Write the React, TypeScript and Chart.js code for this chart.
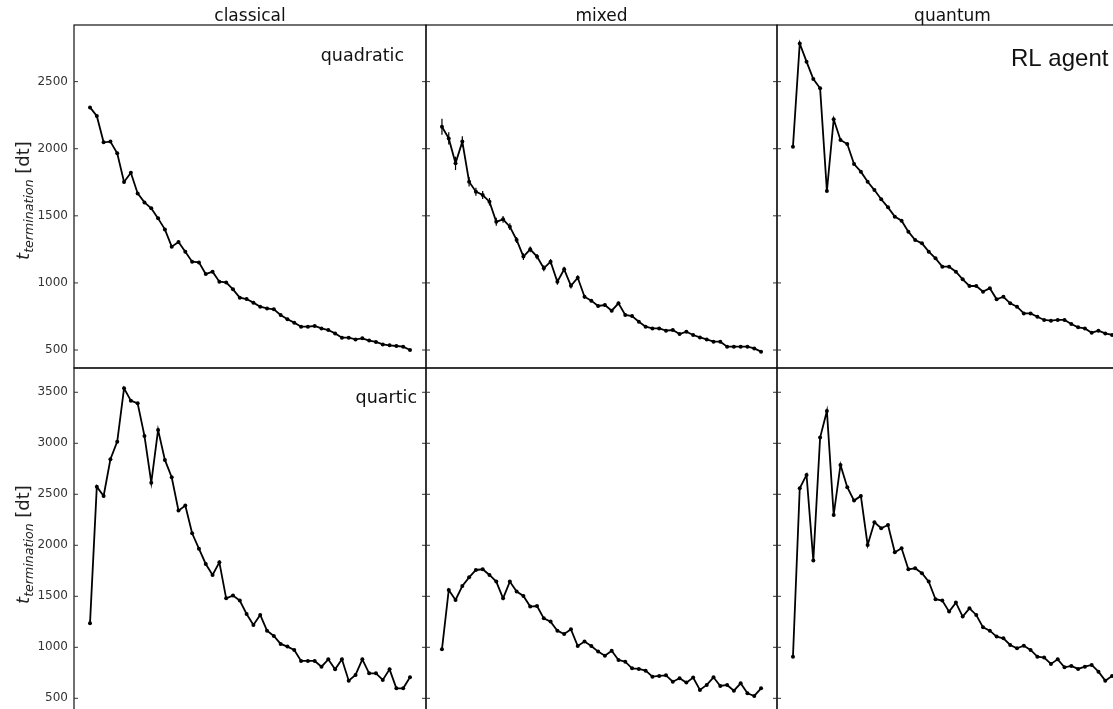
import React, { useEffect, useRef } from 'react';
import { Chart, registerables } from 'chart.js';

Chart.register(...registerables);

// ---------------- data ----------------
const COLUMNS = ['classical', 'mixed', 'quantum'];
const ROW_LABELS = ['quadratic', 'quartic'];
const AGENT_LABEL = 'RL agent';
const TOP_TICKS = [500, 1000, 1500, 2000, 2500];
const BOTTOM_TICKS = [500, 1000, 1500, 2000, 2500, 3000, 3500];

const CLASSICAL_QUADRATIC = [2308, 2244, 2048, 2053, 1966, 1752, 1821, 1667, 1600, 1556, 1481, 1399, 1270, 1305, 1233, 1158, 1153, 1066, 1084, 1009, 1004, 952, 890, 880, 853, 823, 810, 803, 761, 729, 704, 674, 674, 679, 661, 649, 624, 592, 592, 579, 587, 570, 560, 542, 535, 530, 525, 500];
const MIXED_QUADRATIC = [2164, 2077, 1891, 2053, 1754, 1680, 1655, 1605, 1456, 1474, 1419, 1320, 1196, 1250, 1196, 1109, 1158, 1009, 1101, 979, 1039, 897, 868, 828, 835, 793, 848, 761, 753, 711, 674, 661, 661, 644, 649, 619, 637, 612, 594, 579, 562, 562, 525, 525, 525, 525, 512, 488];
const MIXED_QUADRATIC_ERR = [60, 45, 50, 40, 35, 30, 30, 28, 30, 25, 25, 22, 25, 22, 20, 22, 20, 22, 20, 20, 18, 15, 12, 12, 12, 12, 12, 10, 10, 10, 8, 8, 8, 8, 8, 8, 8, 8, 8, 8, 6, 6, 6, 6, 6, 6, 6, 6];
const QUANTUM_QUADRATIC = [2015, 2785, 2649, 2519, 2450, 1685, 2219, 2065, 2035, 1886, 1829, 1754, 1692, 1623, 1563, 1494, 1464, 1382, 1320, 1295, 1233, 1183, 1121, 1121, 1084, 1027, 977, 977, 935, 960, 878, 897, 848, 823, 773, 773, 748, 724, 719, 724, 724, 694, 669, 661, 629, 644, 624, 612];
const CLASSICAL_QUARTIC = [1235, 2575, 2484, 2843, 3016, 3539, 3418, 3392, 3072, 2614, 3131, 2837, 2667, 2340, 2389, 2118, 1967, 1817, 1709, 1833, 1480, 1507, 1458, 1327, 1219, 1317, 1163, 1111, 1033, 1007, 974, 866, 866, 866, 810, 882, 784, 882, 673, 729, 882, 745, 745, 680, 784, 598, 598, 706];
const MIXED_QUARTIC = [980, 1562, 1464, 1601, 1686, 1758, 1765, 1709, 1644, 1480, 1644, 1546, 1503, 1399, 1405, 1284, 1252, 1163, 1131, 1176, 1013, 1056, 1013, 958, 918, 967, 876, 859, 794, 788, 771, 712, 719, 725, 663, 696, 654, 703, 582, 631, 706, 621, 631, 575, 647, 549, 523, 598];
const QUANTUM_QUARTIC = [908, 2559, 2690, 1850, 3056, 3317, 2297, 2788, 2569, 2438, 2484, 2003, 2225, 2167, 2199, 1931, 1971, 1765, 1775, 1726, 1644, 1471, 1458, 1350, 1438, 1301, 1382, 1317, 1196, 1163, 1105, 1088, 1023, 990, 1016, 974, 908, 899, 837, 882, 804, 817, 788, 810, 827, 761, 673, 719];

// ---------------- layout ----------------
const COL_LEFT = [74, 426, 777];
const COL_RIGHT = [426, 777, 1128];
const ROW_TOP = [25, 368];
const ROW_BOTTOM = [368, 713];
const Y_RANGE = [
  [366, 2922],
  [356, 3738],
];
const ROW_TICKS = [TOP_TICKS, BOTTOM_TICKS];
const N = CLASSICAL_QUADRATIC.length;
const X_MIN = -0.05 * (N - 1);
const X_MAX = (N - 1) * 1.05;

type PanelProps = {
  row: number;
  col: number;
  values: number[];
  err?: number[];
};

function Panel({ row, col, values, err }: PanelProps) {
  const ref = useRef<HTMLCanvasElement | null>(null);

  const padL = col === 0 ? 74 : 2;
  const padR = 2;
  const padT = row === 0 ? 25 : 20;
  const padB = 18;
  const areaW = COL_RIGHT[col] - COL_LEFT[col];
  const areaH = ROW_BOTTOM[row] - ROW_TOP[row];
  const canvasLeft = COL_LEFT[col] - padL;
  const canvasTop = ROW_TOP[row] - padT;
  const cw = padL + areaW + padR;
  const ch = padT + areaH + padB;

  useEffect(() => {
    if (!ref.current) return;
    const ticks = ROW_TICKS[row];
    const deco = {
      id: 'deco' + row + col,
      afterDatasetsDraw(chart: any) {
        const ctx = chart.ctx as CanvasRenderingContext2D;
        const a = chart.chartArea;
        const ys = chart.scales.y;
        const xs = chart.scales.x;
        ctx.save();
        // error bars
        if (err) {
          ctx.strokeStyle = '#000';
          ctx.lineWidth = 1.2;
          values.forEach((v, i) => {
            const x = xs.getPixelForValue(i);
            ctx.beginPath();
            ctx.moveTo(x, ys.getPixelForValue(v - err[i]));
            ctx.lineTo(x, ys.getPixelForValue(v + err[i]));
            ctx.stroke();
          });
        }
        // frame
        ctx.strokeStyle = '#111';
        ctx.lineWidth = 1.2;
        ctx.strokeRect(a.left, a.top, a.right - a.left, a.bottom - a.top);
        // inward ticks
        ctx.lineWidth = 1;
        ctx.strokeStyle = '#333';
        ticks.forEach((v) => {
          const y = ys.getPixelForValue(v);
          ctx.beginPath();
          ctx.moveTo(a.left, y);
          ctx.lineTo(a.left + 4, y);
          ctx.moveTo(a.right - 4, y);
          ctx.lineTo(a.right, y);
          ctx.stroke();
        });
        ctx.fillStyle = '#111';
        // column title
        if (row === 0) {
          ctx.font = '17px "DejaVu Sans"';
          ctx.textAlign = 'center';
          ctx.textBaseline = 'alphabetic';
          ctx.fillText(COLUMNS[col], (a.left + a.right) / 2, 21);
        }
        // row labels
        if (col === 0) {
          ctx.font = '17.5px "DejaVu Sans"';
          ctx.textAlign = 'right';
          ctx.textBaseline = 'alphabetic';
          if (row === 0) ctx.fillText(ROW_LABELS[0], 404, 61);
          else ctx.fillText(ROW_LABELS[1], 417, 403 - canvasTop);
          // y axis title
          const cy = (a.top + a.bottom) / 2 + 4;
          ctx.translate(29, cy);
          ctx.rotate(-Math.PI / 2);
          ctx.textAlign = 'left';
          const fMain = 'italic 18px "DejaVu Sans"';
          const fSub = 'italic 12.6px "DejaVu Sans"';
          const fReg = '18px "DejaVu Sans"';
          ctx.font = fMain;
          const w1 = ctx.measureText('t').width;
          ctx.font = fSub;
          const w2 = ctx.measureText('termination').width;
          ctx.font = fReg;
          const w3 = ctx.measureText(' [dt]').width;
          const start = -(w1 + w2 + w3) / 2;
          ctx.fillStyle = '#222';
          ctx.font = fMain;
          ctx.fillText('t', start, 0);
          ctx.font = fSub;
          ctx.fillText('termination', start + w1, 4);
          ctx.font = fReg;
          ctx.fillText(' [dt]', start + w1 + w2, 0);
        }
        ctx.restore();
        if (col === 2 && row === 0) {
          ctx.save();
          ctx.fillStyle = '#111';
          ctx.font = '24px "Liberation Sans"';
          ctx.textAlign = 'left';
          ctx.textBaseline = 'alphabetic';
          ctx.fillText(AGENT_LABEL, 1011 - canvasLeft, 66);
          ctx.restore();
        }
      },
    };

    const chart = new Chart(ref.current, {
      type: 'line',
      data: {
        datasets: [
          {
            data: values.map((v, i) => ({ x: i, y: v })),
            borderColor: '#000',
            borderWidth: 1.8,
            pointRadius: 2,
            pointBackgroundColor: '#000',
            pointBorderWidth: 0,
            tension: 0,
            fill: false,
          },
        ],
      },
      options: {
        responsive: false,
        devicePixelRatio: 1,
        animation: false,
        events: [],
        layout: {
          autoPadding: false,
          padding: { left: col === 0 ? 0 : padL, right: padR, top: padT, bottom: padB },
        },
        plugins: { legend: { display: false }, tooltip: { enabled: false } },
        scales: {
          x: { type: 'linear', display: false, min: X_MIN, max: X_MAX },
          y: {
            type: 'linear',
            display: col === 0,
            min: Y_RANGE[row][0],
            max: Y_RANGE[row][1],
            afterBuildTicks: (scale: any) => {
              scale.ticks = ticks.map((v) => ({ value: v }));
            },
            afterFit: (scale: any) => {
              if (col === 0) scale.width = 74;
            },
            grid: { display: false, drawTicks: false },
            border: { display: false },
            ticks: {
              padding: 6,
              color: '#333',
              font: { family: '"DejaVu Sans"', size: 12 },
              callback: (v: any) => String(v),
            },
          },
        },
      },
      plugins: [deco],
    } as any);
    return () => chart.destroy();
  }, [row, col, values, err]);

  return (
    <canvas
      ref={ref}
      width={cw}
      height={ch}
      style={{ position: 'absolute', left: canvasLeft, top: canvasTop, width: cw, height: ch }}
    />
  );
}

export default function App() {
  return (
    <div
      style={{
        position: 'fixed',
        left: 0,
        top: 0,
        width: 1113,
        height: 709,
        overflow: 'hidden',
        background: '#fff',
      }}
    >
      <Panel row={0} col={0} values={CLASSICAL_QUADRATIC} />
      <Panel row={0} col={1} values={MIXED_QUADRATIC} err={MIXED_QUADRATIC_ERR} />
      <Panel row={0} col={2} values={QUANTUM_QUADRATIC} />
      <Panel row={1} col={0} values={CLASSICAL_QUARTIC} />
      <Panel row={1} col={1} values={MIXED_QUARTIC} />
      <Panel row={1} col={2} values={QUANTUM_QUARTIC} />
    </div>
  );
}
